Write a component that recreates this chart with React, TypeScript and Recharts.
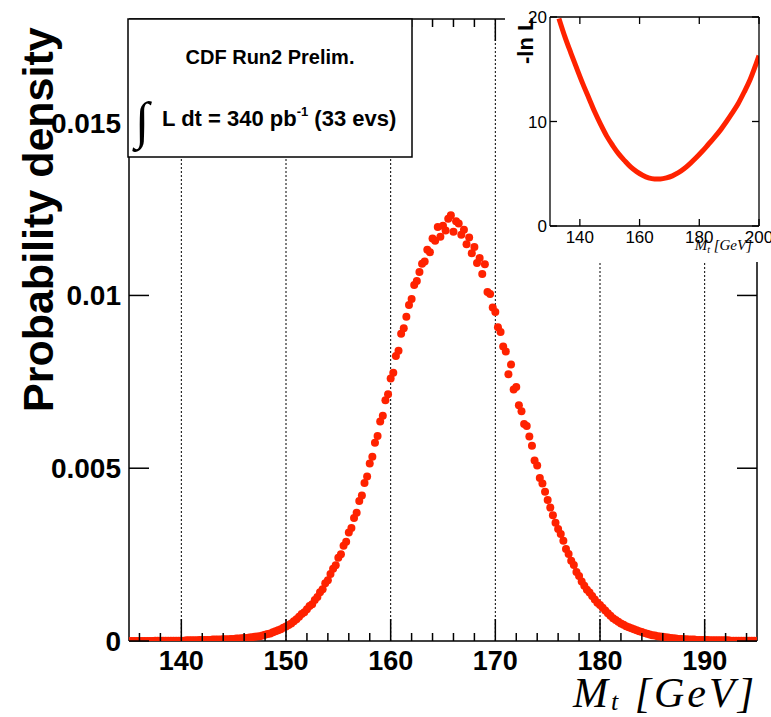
import React from 'react';
import { ScatterChart, Scatter, XAxis, YAxis, ReferenceLine, LineChart, Line } from 'recharts';

// ---- main panel: posterior probability density vs top mass ----
const massGeV = [
  135, 135.25, 135.5, 135.75, 136, 136.25, 136.5, 136.75, 137, 137.25, 137.5, 137.75,
  138, 138.25, 138.5, 138.75, 139, 139.25, 139.5, 139.75, 140, 140.25, 140.5, 140.75,
  141, 141.25, 141.5, 141.75, 142, 142.25, 142.5, 142.75, 143, 143.25, 143.5, 143.75,
  144, 144.25, 144.5, 144.75, 145, 145.25, 145.5, 145.75, 146, 146.25, 146.5, 146.75,
  147, 147.25, 147.5, 147.75, 148, 148.25, 148.5, 148.75, 149, 149.25, 149.5, 149.75,
  150, 150.25, 150.5, 150.75, 151, 151.25, 151.5, 151.75, 152, 152.25, 152.5, 152.75,
  153, 153.25, 153.5, 153.75, 154, 154.25, 154.5, 154.75, 155, 155.25, 155.5, 155.75,
  156, 156.25, 156.5, 156.75, 157, 157.25, 157.5, 157.75, 158, 158.25, 158.5, 158.75,
  159, 159.25, 159.5, 159.75, 160, 160.25, 160.5, 160.75, 161, 161.25, 161.5, 161.75,
  162, 162.25, 162.5, 162.75, 163, 163.25, 163.5, 163.75, 164, 164.25, 164.5, 164.75,
  165, 165.25, 165.5, 165.75, 166, 166.25, 166.5, 166.75, 167, 167.25, 167.5, 167.75,
  168, 168.25, 168.5, 168.75, 169, 169.25, 169.5, 169.75, 170, 170.25, 170.5, 170.75,
  171, 171.25, 171.5, 171.75, 172, 172.25, 172.5, 172.75, 173, 173.25, 173.5, 173.75,
  174, 174.25, 174.5, 174.75, 175, 175.25, 175.5, 175.75, 176, 176.25, 176.5, 176.75,
  177, 177.25, 177.5, 177.75, 178, 178.25, 178.5, 178.75, 179, 179.25, 179.5, 179.75,
  180, 180.25, 180.5, 180.75, 181, 181.25, 181.5, 181.75, 182, 182.25, 182.5, 182.75,
  183, 183.25, 183.5, 183.75, 184, 184.25, 184.5, 184.75, 185, 185.25, 185.5, 185.75,
  186, 186.25, 186.5, 186.75, 187, 187.25, 187.5, 187.75, 188, 188.25, 188.5, 188.75,
  189, 189.25, 189.5, 189.75, 190, 190.25, 190.5, 190.75, 191, 191.25, 191.5, 191.75,
  192, 192.25, 192.5, 192.75, 193, 193.25, 193.5, 193.75, 194, 194.25, 194.5, 194.75,
  195,
];

const density = [
  0, 0, 0, 0, 0, 0, 0, 0, 0, 0, 0.00001, 0.00001,
  0.00001, 0.00001, 0.00001, 0.00001, 0.00001, 0.00001, 0.00001, 0.00001, 0.00001, 0.00001, 0.00002, 0.00002,
  0.00002, 0.00002, 0.00002, 0.00003, 0.00003, 0.00003, 0.00003, 0.00003, 0.00004, 0.00004, 0.00004, 0.00004,
  0.00005, 0.00005, 0.00005, 0.00006, 0.00006, 0.00007, 0.00007, 0.00008, 0.00009, 0.00009, 0.0001, 0.00011,
  0.00012, 0.00013, 0.00014, 0.00016, 0.00018, 0.0002, 0.00022, 0.00025, 0.00028, 0.00031, 0.00034, 0.00038,
  0.00042, 0.00046, 0.00051, 0.00057, 0.00063, 0.0007, 0.00078, 0.00083, 0.00092, 0.00101, 0.00106, 0.00119,
  0.00127, 0.00141, 0.0015, 0.00167, 0.00176, 0.00194, 0.00209, 0.00219, 0.00241, 0.00251, 0.00276, 0.00287,
  0.00314, 0.00327, 0.00356, 0.00371, 0.00405, 0.00421, 0.00457, 0.00476, 0.00514, 0.00533, 0.00574, 0.00593,
  0.00635, 0.00652, 0.00697, 0.00714, 0.0076, 0.00776, 0.00825, 0.0084, 0.00889, 0.00905, 0.00938, 0.00972,
  0.0099, 0.0103, 0.01042, 0.01068, 0.01092, 0.01098, 0.01132, 0.01125, 0.01165, 0.01158, 0.01198, 0.0117,
  0.01202, 0.01188, 0.01222, 0.01232, 0.01184, 0.01215, 0.01208, 0.01176, 0.0119, 0.01148, 0.01168, 0.01122,
  0.0114, 0.01094, 0.01108, 0.01062, 0.0109, 0.0101, 0.01004, 0.00965, 0.00952, 0.00908, 0.00894, 0.00852,
  0.00838, 0.00772, 0.008, 0.00728, 0.00735, 0.00682, 0.00665, 0.00628, 0.00622, 0.00592, 0.00565, 0.00522,
  0.00508, 0.00472, 0.00456, 0.00432, 0.00408, 0.00386, 0.00364, 0.00342, 0.00324, 0.0031, 0.0029, 0.00266,
  0.00252, 0.00232, 0.0022, 0.002, 0.00188, 0.00172, 0.0016, 0.00148, 0.0014, 0.0013, 0.0012, 0.00111,
  0.00104, 0.00096, 0.00088, 0.0008, 0.00073, 0.00066, 0.00061, 0.00056, 0.00051, 0.00047, 0.00043, 0.0004,
  0.00037, 0.00034, 0.00031, 0.00028, 0.00026, 0.00023, 0.00021, 0.00019, 0.00017, 0.00016, 0.00014, 0.00013,
  0.00012, 0.00011, 0.0001, 0.00009, 0.00008, 0.00007, 0.00006, 0.00006, 0.00005, 0.00005, 0.00004, 0.00004,
  0.00004, 0.00003, 0.00003, 0.00003, 0.00003, 0.00003, 0.00002, 0.00002, 0.00002, 0.00002, 0.00002, 0.00002,
  0.00002, 0.00002, 0.00001, 0.00001, 0.00001, 0.00001, 0.00001, 0.00001, 0.00001, 0.00001, 0.00001, 0.00001,
  0.00001,
];

const majorMassTicks = [140, 150, 160, 170, 180, 190];
const allMassTicks = [
  136, 138, 140, 142, 144, 146, 148, 150, 152, 154, 156, 158, 160, 162, 164,
  166, 168, 170, 172, 174, 176, 178, 180, 182, 184, 186, 188, 190, 192, 194,
];
const densityTicks = [0, 0.005, 0.01, 0.015];
const densityTickLabels = ['0', '0.005', '0.01', '0.015'];

// ---- inset: -ln L vs top mass ----
const insetMass = [
  133, 135, 137, 139, 141, 143, 145, 147, 149, 151, 153, 155, 157, 159, 161, 163, 165, 167,
  169, 171, 173, 175, 177, 179, 181, 183, 185, 187, 189, 191, 193, 195, 197, 199, 200,
];
const insetNegLogL = [
  19.85, 18.1, 16.55, 15.05, 13.6, 12.25, 10.9, 9.7, 8.6, 7.7, 6.9, 6.25, 5.65, 5.2, 4.85, 4.6, 4.5, 4.5,
  4.6, 4.8, 5.1, 5.5, 6.0, 6.55, 7.15, 7.8, 8.45, 9.15, 9.95, 10.8, 11.7, 12.8, 14.0, 15.5, 16.3,
];
const insetMassTicks = [140, 160, 180, 200];
const insetLTicks = [0, 10, 20];

const mainData = massGeV.map((m, i) => ({ m, p: density[i] }));
const insetData = insetMass.map((m, i) => ({ m, l: insetNegLogL[i] }));

const RED = '#ff2200';
const SANS = '"Liberation Sans", Arial, Helvetica, sans-serif';
const SERIF = '"Liberation Serif", "Times New Roman", serif';

const BottomTick = (props: any) => {
  const { x, y, payload } = props;
  const v = payload.value;
  const major = majorMassTicks.includes(v);
  return (
    <g>
      <line x1={x} x2={x} y1={y} y2={y - (major ? 22 : 8)} stroke="#000" strokeWidth={1.5} />
      {major && (
        <text x={x} y={y + 29} textAnchor="middle" fontFamily={SANS} fontWeight="bold" fontSize={27} fill="#000">
          {v}
        </text>
      )}
    </g>
  );
};

const TopTick = (props: any) => {
  const { x, y, payload } = props;
  const major = majorMassTicks.includes(payload.value);
  return <line x1={x} x2={x} y1={y} y2={y + (major ? 22 : 8)} stroke="#000" strokeWidth={1.5} />;
};

const LeftTick = (props: any) => {
  const { x, y, payload, index } = props;
  const i = densityTicks.indexOf(payload.value);
  return (
    <g>
      <line x1={x} x2={x + 20} y1={y} y2={y} stroke="#000" strokeWidth={1.5} />
      <text x={x - 8} y={y} dy={10} textAnchor="end" fontFamily={SANS} fontWeight="bold" fontSize={28} fill="#000">
        {densityTickLabels[i >= 0 ? i : index]}
      </text>
    </g>
  );
};

const RightTick = (props: any) => {
  const { x, y } = props;
  return <line x1={x} x2={x - 20} y1={y} y2={y} stroke="#000" strokeWidth={1.5} />;
};

const InsetBottomTick = (props: any) => {
  const { x, y, payload } = props;
  return (
    <g>
      <line x1={x} x2={x} y1={y} y2={y - 7} stroke="#000" strokeWidth={1.3} />
      <text x={x} y={y + 17} textAnchor="middle" fontFamily={SANS} fontSize={17} fill="#000">
        {payload.value}
      </text>
    </g>
  );
};
const InsetTopTick = (props: any) => {
  const { x, y } = props;
  return <line x1={x} x2={x} y1={y} y2={y + 7} stroke="#000" strokeWidth={1.3} />;
};
const InsetLeftTick = (props: any) => {
  const { x, y, payload } = props;
  return (
    <g>
      <line x1={x} x2={x + 7} y1={y} y2={y} stroke="#000" strokeWidth={1.3} />
      <text x={x - 3} y={y} dy={6} textAnchor="end" fontFamily={SANS} fontSize={17} fill="#000">
        {payload.value}
      </text>
    </g>
  );
};
const InsetRightTick = (props: any) => {
  const { x, y } = props;
  return <line x1={x} x2={x - 7} y1={y} y2={y} stroke="#000" strokeWidth={1.3} />;
};

const Dot = (props: any) => {
  const { cx, cy } = props;
  return <circle cx={cx} cy={cy} r={4} fill={RED} />;
};

export default function App() {
  const axisLine = { stroke: '#000', strokeWidth: 1.5 };
  const insetAxisLine = { stroke: '#000', strokeWidth: 1.3 };
  return (
    <div style={{ position: 'absolute', left: 0, top: 0, width: 771, height: 717, background: '#fff', overflow: 'hidden' }}>
      <ScatterChart width={771} height={717} data={mainData} margin={{ top: 18, right: 13, bottom: 75, left: 128 }}>
        <XAxis
          xAxisId="bottom"
          type="number"
          dataKey="m"
          domain={[135, 195]}
          allowDataOverflow
          ticks={allMassTicks}
          interval={0}
          height={1}
          tickSize={0}
          tickMargin={0}
          tickLine={false}
          axisLine={axisLine}
          tick={BottomTick}
        />
        <XAxis
          xAxisId="top"
          orientation="top"
          type="number"
          dataKey="m"
          domain={[135, 195]}
          allowDataOverflow
          ticks={allMassTicks}
          interval={0}
          height={1}
          tickSize={0}
          tickMargin={0}
          tickLine={false}
          axisLine={axisLine}
          tick={TopTick}
        />
        <YAxis
          yAxisId="left"
          type="number"
          dataKey="p"
          domain={[0, 0.018]}
          allowDataOverflow
          ticks={densityTicks}
          interval={0}
          width={1}
          tickSize={0}
          tickMargin={0}
          tickLine={false}
          axisLine={axisLine}
          tick={LeftTick}
        />
        <YAxis
          yAxisId="right"
          orientation="right"
          type="number"
          dataKey="p"
          domain={[0, 0.018]}
          allowDataOverflow
          ticks={densityTicks}
          interval={0}
          width={1}
          tickSize={0}
          tickMargin={0}
          tickLine={false}
          axisLine={axisLine}
          tick={RightTick}
        />
        {majorMassTicks.map((v) => (
          <ReferenceLine
            key={v}
            x={v}
            xAxisId="bottom"
            yAxisId="left"
            stroke="#000"
            strokeWidth={1}
            strokeDasharray="2 2"
          />
        ))}
        <Scatter
          xAxisId="bottom"
          yAxisId="left"
          dataKey="p"
          fill={RED}
          shape={Dot}
          isAnimationActive={false}
        />
      </ScatterChart>

      {/* axis titles and legend box */}
      <svg width={771} height={717} style={{ position: 'absolute', left: 0, top: 0, pointerEvents: 'none' }}>
        <text
          x={53}
          y={412}
          transform="rotate(-90 53 412)"
          textAnchor="start"
          fontFamily={SANS}
          fontWeight="bold"
          fontSize={43}
          fill="#000"
        >
          Probability density
        </text>
        <text
          x={757}
          y={707}
          textAnchor="end"
          fontFamily={SERIF}
          fontStyle="italic"
          fontSize={42}
          letterSpacing={3}
          fill="#000"
        >
          M<tspan fontSize={26} dy={3}>t</tspan>
          <tspan dy={-3}> [GeV]</tspan>
        </text>
        <rect x={128} y={19} width={284} height={138} fill="#fff" stroke="#000" strokeWidth={1.5} />
        <text x={270} y={64} textAnchor="middle" fontFamily={SANS} fontWeight="bold" fontSize={20} fill="#000">
          CDF Run2 Prelim.
        </text>
        <text x={135} y={138} fontFamily={SERIF} fontSize={52} fill="#000">
          ∫
        </text>
        <text x={162} y={126} fontFamily={SANS} fontWeight="bold" fontSize={22} fill="#000">
          L dt = 340 pb<tspan fontSize={13} dy={-10}>-1</tspan>
          <tspan dy={10}> (33 evs)</tspan>
        </text>
      </svg>

      {/* inset */}
      <div style={{ position: 'absolute', left: 505, top: 0, width: 266, height: 262, background: '#fff' }}>
        <LineChart width={266} height={262} data={insetData} margin={{ top: 16, right: 11, bottom: 35, left: 44 }}>
          <XAxis
            xAxisId="b"
            type="number"
            dataKey="m"
            domain={[130, 200]}
            allowDataOverflow
            ticks={insetMassTicks}
            interval={0}
            height={1}
            tickSize={0}
            tickMargin={0}
            tickLine={false}
            axisLine={insetAxisLine}
            tick={InsetBottomTick}
          />
          <XAxis
            xAxisId="t"
            orientation="top"
            type="number"
            dataKey="m"
            domain={[130, 200]}
            allowDataOverflow
            ticks={insetMassTicks}
            interval={0}
            height={1}
            tickSize={0}
            tickMargin={0}
            tickLine={false}
            axisLine={insetAxisLine}
            tick={InsetTopTick}
          />
          <YAxis
            yAxisId="l"
            type="number"
            dataKey="l"
            domain={[0, 20]}
            allowDataOverflow
            ticks={insetLTicks}
            interval={0}
            width={1}
            tickSize={0}
            tickMargin={0}
            tickLine={false}
            axisLine={insetAxisLine}
            tick={InsetLeftTick}
          />
          <YAxis
            yAxisId="r"
            orientation="right"
            type="number"
            dataKey="l"
            domain={[0, 20]}
            allowDataOverflow
            ticks={insetLTicks}
            interval={0}
            width={1}
            tickSize={0}
            tickMargin={0}
            tickLine={false}
            axisLine={insetAxisLine}
            tick={InsetRightTick}
          />
          <Line
            xAxisId="b"
            yAxisId="l"
            type="monotone"
            dataKey="l"
            stroke={RED}
            strokeWidth={5}
            dot={false}
            isAnimationActive={false}
          />
        </LineChart>
      </div>
      <svg width={771} height={717} style={{ position: 'absolute', left: 0, top: 0, pointerEvents: 'none' }}>
        <text
          x={533}
          y={64}
          transform="rotate(-90 533 64)"
          textAnchor="start"
          fontFamily={SANS}
          fontWeight="bold"
          fontSize={22}
          fill="#000"
        >
          -ln L
        </text>
        <text x={752} y={250} textAnchor="end" fontFamily={SERIF} fontStyle="italic" fontSize={15} fill="#000">
          M<tspan fontSize={10} dy={3}>t</tspan>
          <tspan dy={-3}> [GeV]</tspan>
        </text>
      </svg>
    </div>
  );
}
